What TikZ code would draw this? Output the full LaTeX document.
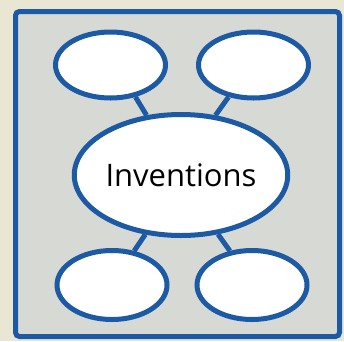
\documentclass[tikz,border=0pt]{standalone}
\usepackage{fontspec}
\newfontfamily\bubblefont{Open Sans}
\usepackage{xcolor}
\definecolor{cBlue}{HTML}{1D5AA5}
\definecolor{cPanel}{HTML}{D7DAD4}
\definecolor{cPaper}{HTML}{E9E7D3}
\usetikzlibrary{shapes.geometric}
\tikzset{
  node-bubble/.style={ellipse,draw=cBlue,line width=5pt,fill=white,
    minimum width=110pt,minimum height=66pt,inner sep=0pt},
  node-hub/.style={node-bubble,minimum width=207pt,minimum height=121pt,
    font=\bubblefont\fontsize{31}{34}\selectfont},
  link/.style={draw=cBlue,line width=5pt},
}
\begin{document}
\begin{tikzpicture}[x=1pt,y=-1pt]
  \useasboundingbox (0,0) rectangle (344,341);
  \fill[cPaper] (0,0) rectangle (344,341);
  \draw[draw=cBlue,fill=cPanel,line width=5pt,rounded corners=4pt]
    (15.5,11.5) rectangle (339.5,336.5);
  % the hub and its four empty bubbles
  \node[node-hub] (hub) at (181,175) {Inventions};
  \node[node-bubble] (tl) at (110.5,65) {};
  \node[node-bubble] (tr) at (253.5,65) {};
  \node[node-bubble,minimum height=69pt] (bl) at (112,285) {};
  \node[node-bubble,minimum height=69pt] (br) at (252,285) {};
  \draw[link] (tl.-52) -- (hub.120);
  \draw[link] (tr.-128) -- (hub.60);
  \draw[link] (bl.57) -- (hub.-121);
  \draw[link] (br.123) -- (hub.-58);
\end{tikzpicture}
\end{document}
